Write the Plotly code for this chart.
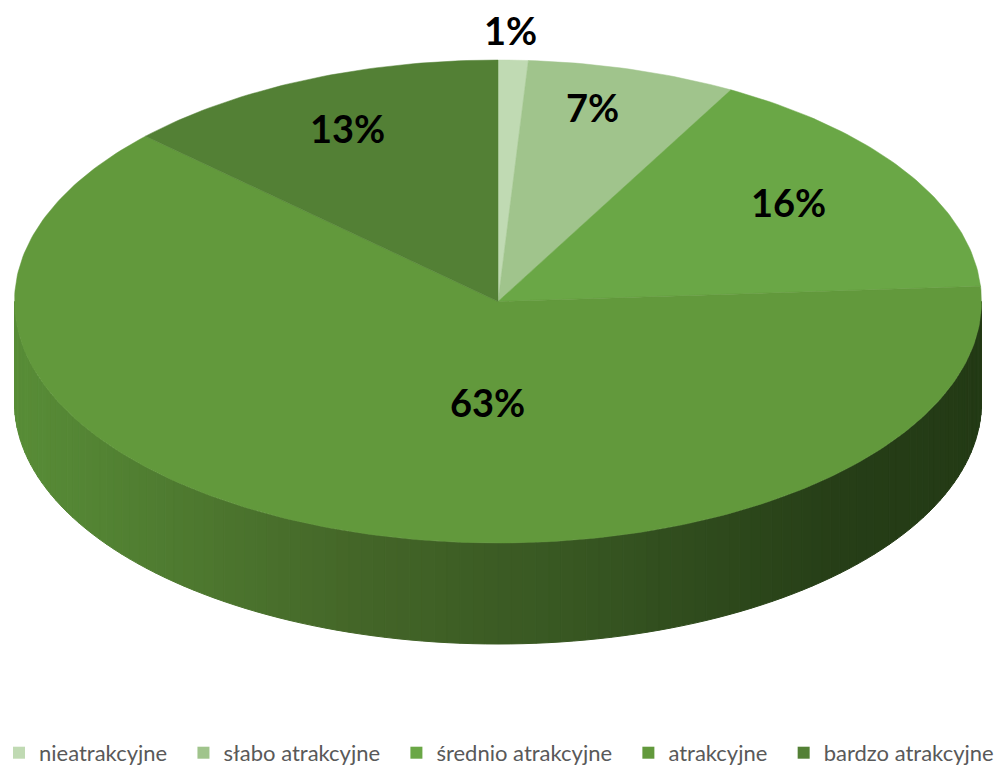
import numpy as np
import plotly.graph_objects as go

categories = ["nieatrakcyjne", "słabo atrakcyjne", "średnio atrakcyjne", "atrakcyjne", "bardzo atrakcyjne"]
values = [1, 7, 16, 63, 13]
colors = ["#c0dab3", "#a0c48c", "#6aa746", "#62993c", "#538035"]
# label placement (style): radius fraction and angle offset from slice middle
label_r = [1.124, 0.828, 0.728, 0.417, 0.782]
label_dang = [-0.5, -2.6, -2.0, -16.8, 0.0]

W, H = 998, 767
cx, cy = 498, 301.5
rx, ry = 483.5, 241.5
depth = 101

def pt(theta_deg, r=1.0):
    t = np.radians(theta_deg)
    return cx + r * rx * np.sin(t), cy - r * ry * np.cos(t)

fig = go.Figure()

total = sum(values)
fracs = [v / total for v in values]
starts = np.cumsum([0] + fracs[:-1]) * 360
ends = np.cumsum(fracs) * 360

# side face (visible front: 90..270 degrees), gradient strips
side_stops = [(0.0, (0x58, 0x8d, 0x37)), (0.35, (0x44, 0x66, 0x28)), (0.6, (0x36, 0x55, 0x21)),
              (0.85, (0x26, 0x3e, 0x17)), (1.0, (0x23, 0x3a, 0x15))]

def side_color(u):
    for (a, ca), (b, cb) in zip(side_stops[:-1], side_stops[1:]):
        if a <= u <= b:
            f = (u - a) / (b - a) if b > a else 0
            c = [round(ca[i] + f * (cb[i] - ca[i])) for i in range(3)]
            return "rgb(%d,%d,%d)" % tuple(c)
    return "rgb(35,58,21)"

n = 120
thetas = np.linspace(270, 90, n + 1)
for i in range(n):
    ts = np.linspace(thetas[i], thetas[i + 1], 4)
    xs, ys = pt(ts)
    px = list(xs) + list(xs[::-1])
    py = list(ys) + list((ys + depth)[::-1])
    xm = (xs.mean() - (cx - rx)) / (2 * rx)
    col = side_color(float(np.clip(xm, 0, 1)))
    fig.add_trace(go.Scatter(x=px + [px[0]], y=py + [py[0]], fill="toself", fillcolor=col,
                             mode="lines", line=dict(color=col, width=1),
                             hoverinfo="skip", showlegend=False))

# top face slices
for i, cat in enumerate(categories):
    ts = np.linspace(starts[i], ends[i], max(4, int(fracs[i] * 400)))
    xs, ys = pt(ts)
    px = [cx] + list(xs) + [cx]
    py = [cy] + list(ys) + [cy]
    fig.add_trace(go.Scatter(x=px, y=py, fill="toself", fillcolor=colors[i], mode="lines",
                             line=dict(color=colors[i], width=0.5), hoverinfo="skip", showlegend=False))

# labels
for i, v in enumerate(values):
    mid = (starts[i] + ends[i]) / 2 + label_dang[i]
    lx, ly = pt(mid, label_r[i])
    fig.add_annotation(x=lx, y=ly, text="<b>%d%%</b>" % round(v), showarrow=False,
                       font=dict(family="Lato", size=38, color="#000000"))

# legend entries (trailing non-breaking spaces widen the gap between entries)
for i, cat in enumerate(categories):
    pad = "\u00a0\u00a0" if i < len(categories) - 1 else ""
    fig.add_trace(go.Scatter(x=[None], y=[None], mode="markers", name=cat + pad,
                             marker=dict(symbol="square", size=12, color=colors[i])))

fig.update_layout(
    width=W, height=H, margin=dict(l=0, r=0, t=0, b=0, autoexpand=False),
    paper_bgcolor="white", plot_bgcolor="white",
    xaxis=dict(range=[0, W], visible=False, fixedrange=True),
    yaxis=dict(range=[H, 0], visible=False, fixedrange=True),
    legend=dict(orientation="h", x=0.5, xanchor="center", y=-0.009, yanchor="bottom",
                font=dict(family="Lato", size=22, color="#595959"), itemsizing="constant",
                tracegroupgap=0),
)

fig.write_html("out.html")
